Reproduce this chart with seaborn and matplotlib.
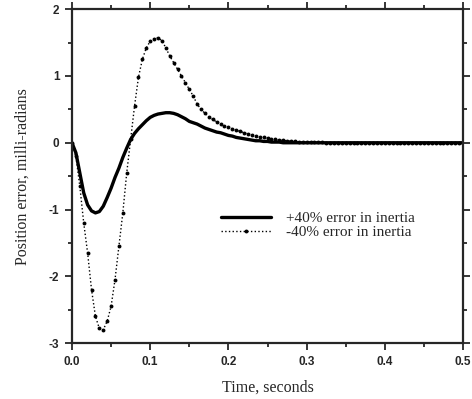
import seaborn as sns
import matplotlib.pyplot as plt
from matplotlib.ticker import MultipleLocator
from matplotlib.lines import Line2D

# time samples, seconds (0.005 s steps)
time_s = [round(i * 0.005, 3) for i in range(101)]

# +40% error in inertia
plus40 = [0.0, -0.15, -0.45, -0.75, -0.93, -1.02, -1.05, -1.03, -0.95, -0.82,
          -0.68, -0.52, -0.38, -0.22, -0.08, 0.05, 0.14, 0.21, 0.27, 0.33,
          0.38, 0.41, 0.43, 0.44, 0.45, 0.45, 0.44, 0.42, 0.39, 0.36,
          0.32, 0.30, 0.28, 0.25, 0.22, 0.20, 0.18, 0.16, 0.15, 0.13,
          0.11, 0.10, 0.08, 0.07, 0.06, 0.05, 0.04, 0.03, 0.03, 0.02,
          0.02, 0.01, 0.01, 0.01, 0.0, 0.0, 0.0, 0.0, 0.0, 0.0,
          0.0, 0.0, 0.0, 0.0, 0.0, 0.0, 0.0, 0.0, 0.0, 0.0,
          0.0, 0.0, 0.0, 0.0, 0.0, 0.0, 0.0, 0.0, 0.0, 0.0,
          0.0, 0.0, 0.0, 0.0, 0.0, 0.0, 0.0, 0.0, 0.0, 0.0,
          0.0, 0.0, 0.0, 0.0, 0.0, 0.0, 0.0, 0.0, 0.0, 0.0,
          0.0]

# -40% error in inertia
minus40 = [0.0, -0.2, -0.65, -1.2, -1.65, -2.2, -2.6, -2.78, -2.8, -2.67,
           -2.45, -2.05, -1.55, -1.05, -0.45, 0.05, 0.55, 0.98, 1.25, 1.42,
           1.52, 1.56, 1.57, 1.53, 1.42, 1.30, 1.20, 1.10, 1.00, 0.90,
           0.80, 0.70, 0.58, 0.50, 0.44, 0.39, 0.35, 0.31, 0.28, 0.25,
           0.23, 0.21, 0.19, 0.17, 0.15, 0.13, 0.12, 0.10, 0.09, 0.08,
           0.07, 0.06, 0.05, 0.04, 0.035, 0.03, 0.025, 0.02, 0.015, 0.01,
           0.01, 0.01, 0.005, 0.005, 0.005, 0.0, 0.0, 0.0, 0.0, 0.0,
           0.0, 0.0, 0.0, 0.0, 0.0, 0.0, 0.0, 0.0, 0.0, 0.0,
           0.0, 0.0, 0.0, 0.0, 0.0, 0.0, 0.0, 0.0, 0.0, 0.0,
           0.0, 0.0, 0.0, 0.0, 0.0, 0.0, 0.0, 0.0, 0.0, 0.0,
           0.0]

labels = ["+40% error in inertia", "-40% error in inertia"]

sns.set_style("ticks")
plt.rcParams["font.family"] = ["Liberation Sans", "DejaVu Sans"]

fig = plt.figure(figsize=(4.72, 3.99), dpi=100)
ax = fig.add_axes([0.1525, 0.14, 0.8285, 0.837])

sns.lineplot(x=time_s, y=plus40, ax=ax, color="black", lw=2.4)
sns.lineplot(x=time_s, y=minus40, ax=ax, color="black", lw=1.0, linestyle=":",
             marker="o", markersize=2.8, markeredgewidth=0)

ax.set_xlim(0, 0.5)
ax.set_ylim(-3, 2)
ax.xaxis.set_major_locator(MultipleLocator(0.1))
ax.xaxis.set_minor_locator(MultipleLocator(0.05))
ax.yaxis.set_major_locator(MultipleLocator(1))
ax.yaxis.set_minor_locator(MultipleLocator(0.5))
ax.set_xticklabels(["%.1f" % v for v in ax.get_xticks()])
ax.set_yticklabels(["%d" % v for v in ax.get_yticks()])
ax.tick_params(which="both", direction="out", top=True, right=True, labelsize=8.5,
               width=1.3, pad=4)
ax.tick_params(which="major", length=5)
ax.tick_params(which="minor", length=3)
for lab in ax.get_xticklabels() + ax.get_yticklabels():
    lab.set_fontweight("bold")
for s in ax.spines.values():
    s.set_linewidth(1.6)
    s.set_visible(True)

serif = ["Liberation Serif", "DejaVu Serif"]
ax.set_xlabel("Time, seconds", family=serif, fontsize=11.5, labelpad=9)
ax.set_ylabel("Position error, milli-radians", family=serif, fontsize=11.5, labelpad=13)

handles = [Line2D([], [], color="black", lw=2.4),
           Line2D([], [], color="black", lw=1.0, linestyle=":", marker="o",
                  markersize=2.8, markeredgewidth=0, markevery=[1])]
ax.legend(handles, labels, loc="upper left", bbox_to_anchor=(0.345, 0.435),
          frameon=False, prop={"family": serif, "size": 11},
          handlelength=3.3, handletextpad=1.0, labelspacing=0.0)

fig.savefig("out.png", dpi=100)
